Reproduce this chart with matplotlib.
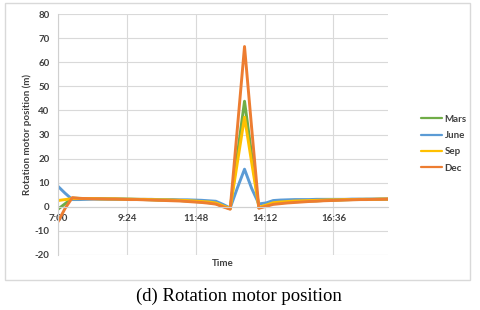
import matplotlib
matplotlib.use("Agg")
import matplotlib.pyplot as plt
from matplotlib.patches import Rectangle

# ---- data ----
times = ["7:00", "7:15", "7:30", "7:45", "8:00", "8:15", "8:30", "8:45",
         "9:00", "9:15", "9:30", "9:45", "10:00", "10:15", "10:30", "10:45",
         "11:00", "11:15", "11:30", "11:45", "12:00", "12:15", "12:30", "12:45",
         "13:00", "13:15", "13:30", "13:45", "14:00", "14:15", "14:30", "14:45",
         "15:00", "15:15", "15:30", "15:45", "16:00", "16:15", "16:30", "16:45",
         "17:00", "17:15", "17:30", "17:45", "18:00", "18:15", "18:30"]

mars = [-1.0, 1.3, 3.6, 3.5, 3.4, 3.4, 3.3, 3.3, 3.2, 3.2, 3.1, 3.1, 3.0, 2.9, 2.8, 2.8,
        2.7, 2.6, 2.4, 2.2, 2.0, 1.7, 1.3, 0.2, -0.8, 21.5, 43.8, 21.5, -0.4, 0.4, 1.3, 1.6,
        1.9, 2.1, 2.2, 2.4, 2.5, 2.6, 2.7, 2.8, 2.9, 3.0, 3.0, 3.1, 3.1, 3.2, 3.2]
june = [8.5, 5.6, 3.0, 3.0, 3.1, 3.2, 3.2, 3.2, 3.2, 3.2, 3.2, 3.1, 3.1, 3.1, 3.0, 3.0,
        3.0, 2.9, 2.9, 2.8, 2.7, 2.5, 2.3, 1.0, -0.5, 7.8, 15.6, 7.6, 1.2, 1.6, 2.6, 2.8,
        2.9, 3.0, 3.0, 3.0, 3.1, 3.1, 3.1, 3.1, 3.1, 3.2, 3.2, 3.2, 3.2, 3.2, 3.2]
sep = [2.6, 3.0, 3.4, 3.4, 3.4, 3.4, 3.3, 3.3, 3.3, 3.2, 3.2, 3.1, 3.1, 3.0, 2.9, 2.9,
       2.8, 2.7, 2.6, 2.4, 2.2, 2.0, 1.6, 0.4, -0.7, 18.3, 37.2, 18.3, -0.2, 0.7, 1.7, 2.0,
       2.2, 2.4, 2.5, 2.6, 2.7, 2.8, 2.9, 2.9, 3.0, 3.0, 3.1, 3.1, 3.1, 3.2, 3.2]
dec = [-6.2, -0.6, 3.8, 3.5, 3.4, 3.3, 3.3, 3.2, 3.2, 3.1, 3.0, 3.0, 2.9, 2.8, 2.7, 2.6,
       2.5, 2.4, 2.2, 2.0, 1.8, 1.5, 1.1, 0.0, -1.0, 32.5, 66.5, 32.5, -0.6, 0.2, 1.0, 1.3,
       1.6, 1.8, 2.0, 2.2, 2.3, 2.5, 2.6, 2.7, 2.8, 2.9, 3.0, 3.0, 3.1, 3.1, 3.2]

series_names = ["Mars", "June", "Sep", "Dec"]
series_values = [mars, june, sep, dec]
series_colors = ["#70AD47", "#5B9BD5", "#FFC000", "#ED7D31"]

xtick_labels = ["7:00", "9:24", "11:48", "14:12", "16:36"]
ytick_values = [-20, -10, 0, 10, 20, 30, 40, 50, 60, 70, 80]


def to_min(s):
    h, m = s.split(":")
    return (int(h) - 7) * 60 + int(m)


x = [to_min(t) for t in times]
xticks = [to_min(t) for t in xtick_labels]

# ---- figure ----
fig = plt.figure(figsize=(4.8, 3.1), dpi=100)
fig.patch.set_facecolor("white")
fig.patches.append(Rectangle((5 / 480, 1 - 280 / 310), 465 / 480, 277 / 310,
                             transform=fig.transFigure, fill=False,
                             edgecolor="#d9d9d9", lw=1.0))

ax = fig.add_axes([58 / 480, 1 - 255 / 310, 330 / 480, 241 / 310])
tick_font = dict(family="Lato", weight="bold", size=7)
txt_color = "#404040"

for s in ["top", "right"]:
    ax.spines[s].set_visible(False)
ax.spines["bottom"].set_position(("data", 0))
ax.spines["bottom"].set_color("#d0d0d0")
ax.spines["left"].set_color("#d0d0d0")
ax.spines["bottom"].set_linewidth(0.8)
ax.spines["left"].set_linewidth(0.8)

for name, vals, col in zip(series_names, series_values, series_colors):
    ax.plot(x, vals, color=col, lw=2.1, label=name, solid_joinstyle="round",
            solid_capstyle="round")

ax.set_xlim(0, 690)
ax.set_ylim(-20, 80)
ax.set_yticks(ytick_values)
ax.set_yticklabels([str(v) for v in ytick_values], fontdict=tick_font, color=txt_color)
ax.set_xticks(xticks)
ax.set_xticklabels(xtick_labels, fontdict=tick_font, color=txt_color)
ax.tick_params(length=0)
ax.tick_params(axis="y", pad=6)
ax.tick_params(axis="x", pad=5.5)

ax.grid(True, color="#d9d9d9", lw=0.8)
ax.set_axisbelow(True)

ax.set_xlabel("Time", fontdict=tick_font, color=txt_color)
ax.xaxis.set_label_coords(0.5, -0.015)
ax.xaxis.label.set_va("top")
ax.set_ylabel("Rotation motor position (m)", fontdict=tick_font, color=txt_color)
ax.yaxis.set_label_coords(-0.08, 0.5)

leg = ax.legend(loc="upper left", bbox_to_anchor=(416 / 480, 1 - 110 / 310),
                bbox_transform=fig.transFigure, frameon=False, borderpad=0,
                handlelength=2.2, handletextpad=0.25, labelspacing=0.75,
                prop=dict(family="Lato", weight="bold", size=7))
for t in leg.get_texts():
    t.set_color(txt_color)
for h in leg.get_lines():
    h.set_linewidth(1.6)

fig.text(239 / 480, 1 - 296 / 310, "(d) Rotation motor position",
         family="Liberation Serif", fontsize=13.5, ha="center", va="center",
         color="black")

fig.savefig("out.png", dpi=100, facecolor="white")
